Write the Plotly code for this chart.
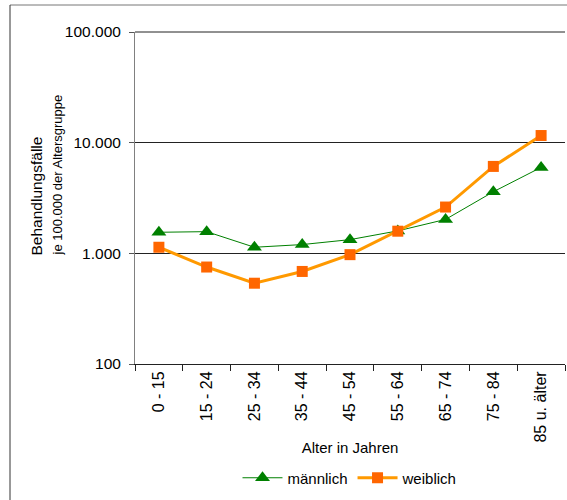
import plotly.graph_objects as go

categories = ["0 - 15", "15 - 24", "25 - 34", "35 - 44", "45 - 54",
              "55 - 64", "65 - 74", "75 - 84", "85 u. älter"]
maennlich = [1550, 1570, 1135, 1200, 1330, 1595, 2025, 3600, 5980]
weiblich = [1135, 752, 537, 686, 973, 1585, 2620, 6100, 11600]
y_tickvals = [100, 1000, 10000, 100000]
y_ticktext = ["100", "1.000", "10.000", "100.000"]

FONT = "Liberation Sans, Arial, sans-serif"
L, R, T, B = 135, 2, 32, 136
W, H = 567, 500
pw, ph = W - L - R, H - T - B

def px(x):
    return (x - L) / pw

def py(y):
    return (H - B - y) / ph

fig = go.Figure()
fig.add_trace(go.Scatter(
    x=categories, y=maennlich, name="männlich", mode="lines+markers",
    line=dict(color="#008000", width=1),
    marker=dict(symbol="triangle-up", size=13, color="#008000"),
))
fig.add_trace(go.Scatter(
    x=categories, y=weiblich, name="weiblich", mode="lines+markers",
    line=dict(color="#FF9900", width=3),
    marker=dict(symbol="square", size=11, color="#FF6600"),
))

fig.update_layout(
    width=W, height=H,
    margin=dict(l=L, r=R, t=T, b=B),
    paper_bgcolor="white", plot_bgcolor="white",
    font=dict(family=FONT, size=15, color="black"),
    showlegend=True,
    legend=dict(orientation="h", x=0.5, xanchor="center", y=py(478), yanchor="middle",
                font=dict(size=15), itemwidth=40, bgcolor="rgba(0,0,0,0)"),
    xaxis=dict(
        type="category", range=[-0.5, 8.5], tickangle=-90,
        showline=True, linecolor="#222", linewidth=1,
        ticks="outside", ticklen=6, tickcolor="#222", tickson="boundaries",
        showgrid=False, tickfont=dict(size=16),
        title=dict(text="Alter in Jahren", font=dict(size=15), standoff=0),
    ),
    yaxis=dict(
        type="log", range=[2, 5],
        tickvals=y_tickvals, ticktext=y_ticktext,
        showline=True, linecolor="#808080", linewidth=1,
        ticks="outside", ticklen=5, tickcolor="#555",
        ticklabelstandoff=5,
        showgrid=True, gridcolor="#222", gridwidth=1,
        zeroline=False, tickfont=dict(size=15.5),
    ),
)

# y-axis title, two lines (bottom-anchored when rotated)
fig.add_annotation(text="Behandlungsfälle", xref="paper", yref="paper",
                   x=px(36), y=py(258), xanchor="center", yanchor="bottom",
                   textangle=-90, showarrow=False, font=dict(size=15.5))
fig.add_annotation(text="je 100.000 der Altersgruppe", xref="paper", yref="paper",
                   x=px(57), y=py(258), xanchor="center", yanchor="bottom",
                   textangle=-90, showarrow=False, font=dict(size=13))

# top grid line and outer frame
fig.add_shape(type="line", xref="paper", yref="paper", x0=0, x1=1, y0=1, y1=1,
              line=dict(color="#222", width=1))
fig.add_shape(type="line", xref="paper", yref="paper", x0=px(10), x1=px(567),
              y0=py(5), y1=py(5), line=dict(color="#777", width=1))
fig.add_shape(type="line", xref="paper", yref="paper", x0=px(10), x1=px(10),
              y0=py(5), y1=py(500), line=dict(color="#333", width=1))

fig.write_html(
    "out.html",
    config={"displayModeBar": False},
    post_script="document.body.style.margin='0';document.body.style.overflow='hidden';",
)
